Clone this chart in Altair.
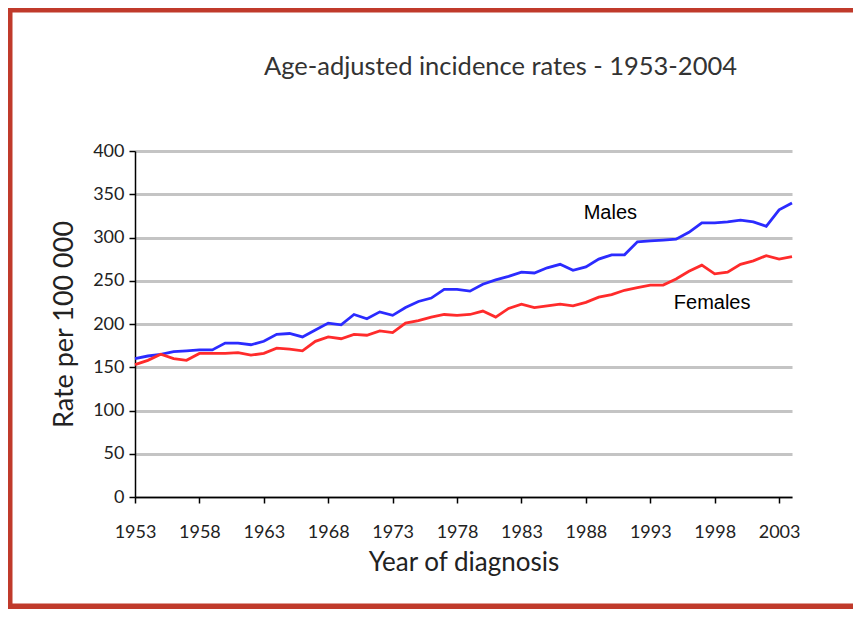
import altair as alt
import pandas as pd

years = list(range(1953, 2005))
males = [160, 163, 165, 168, 169, 170, 170, 178, 178, 176,
         180, 188, 189, 185, 193, 201, 199, 211, 206, 214,
         210, 219, 226, 230, 240, 240, 238, 246, 251, 255,
         260, 259, 265, 269, 262, 266, 275, 280, 280, 295,
         296, 297, 298, 306, 317, 317, 318, 320, 318, 313,
         332, 340]
females = [153, 158, 165, 160, 158, 166, 166, 166, 167, 164,
           166, 172, 171, 169, 180, 185, 183, 188, 187, 192,
           190, 201, 204, 208, 211, 210, 211, 215, 208, 218,
           223, 219, 221, 223, 221, 225, 231, 234, 239, 242,
           245, 245, 252, 261, 268, 258, 260, 269, 273, 279,
           275, 278]

series = ["Males", "Females"]
colors = ["#2b2bff", "#ff2b2b"]
label_year = [1989.9, 1997.8]
label_value = [328, 224]
x_ticks = list(range(1953, 2004, 5))
y_ticks = list(range(0, 401, 50))

df = pd.DataFrame({
    "year": years * 2,
    "rate": males + females,
    "sex": ["Males"] * len(years) + ["Females"] * len(years),
})
labels = pd.DataFrame({"sex": series, "year": label_year, "rate": label_value})

LABEL_FONT = "Lato"

x_enc = alt.X("year:Q",
              scale=alt.Scale(domain=[1953, 2004], nice=False, zero=False),
              axis=alt.Axis(values=x_ticks, format="d", title="Year of diagnosis",
                            grid=False, tickSize=6, labelPadding=20, labelFlush=False,
                            titlePadding=8))
y_enc = alt.Y("rate:Q",
              scale=alt.Scale(domain=[0, 400], nice=False),
              axis=alt.Axis(values=y_ticks, title="Rate per 100 000",
                            grid=True, tickSize=6, labelPadding=5,
                            titlePadding=14, titleFontSize=27))

frame = alt.Chart(alt.Data(values=[{}])).mark_rect(
    fillOpacity=0, stroke="#c03a2b", strokeWidth=7
).encode(
    x=alt.value(-126), x2=alt.value(780),
    y=alt.value(-142), y2=alt.value(456)
)

lines = alt.Chart(df).mark_line(strokeWidth=2.8).encode(
    x=x_enc, y=y_enc,
    color=alt.Color("sex:N", scale=alt.Scale(domain=series, range=colors), legend=None),
)

texts = alt.Chart(labels).mark_text(
    font="Liberation Sans", fontSize=20, color="black", align="center", baseline="middle"
).encode(
    x="year:Q", y="rate:Q", text="sex:N"
)

chart = alt.layer(frame, lines, texts).properties(
    width=657, height=346,
    autosize=alt.AutoSizeParams(type="none"),
    padding={"left": 127, "top": 143, "right": 61, "bottom": 112},
    title=alt.TitleParams("Age-adjusted incidence rates - 1953-2004", fontSize=25.5,
                          font=LABEL_FONT, fontWeight="normal", color="#333333",
                          anchor="middle", frame="group", baseline="bottom",
                          dx=37, offset=-100),
    background="white",
).configure_view(stroke=None).configure_axis(
    domainColor="black", domainWidth=1.5, tickColor="black", tickWidth=1.5,
    labelFont=LABEL_FONT, labelFontSize=18, labelColor="#222222",
    titleFont=LABEL_FONT, titleFontSize=26, titleFontWeight="normal", titleColor="#222222",
    gridColor="#c4c4c4", gridWidth=3,
)

chart.save("out.html", embed_options={"renderer": "svg", "actions": False})
